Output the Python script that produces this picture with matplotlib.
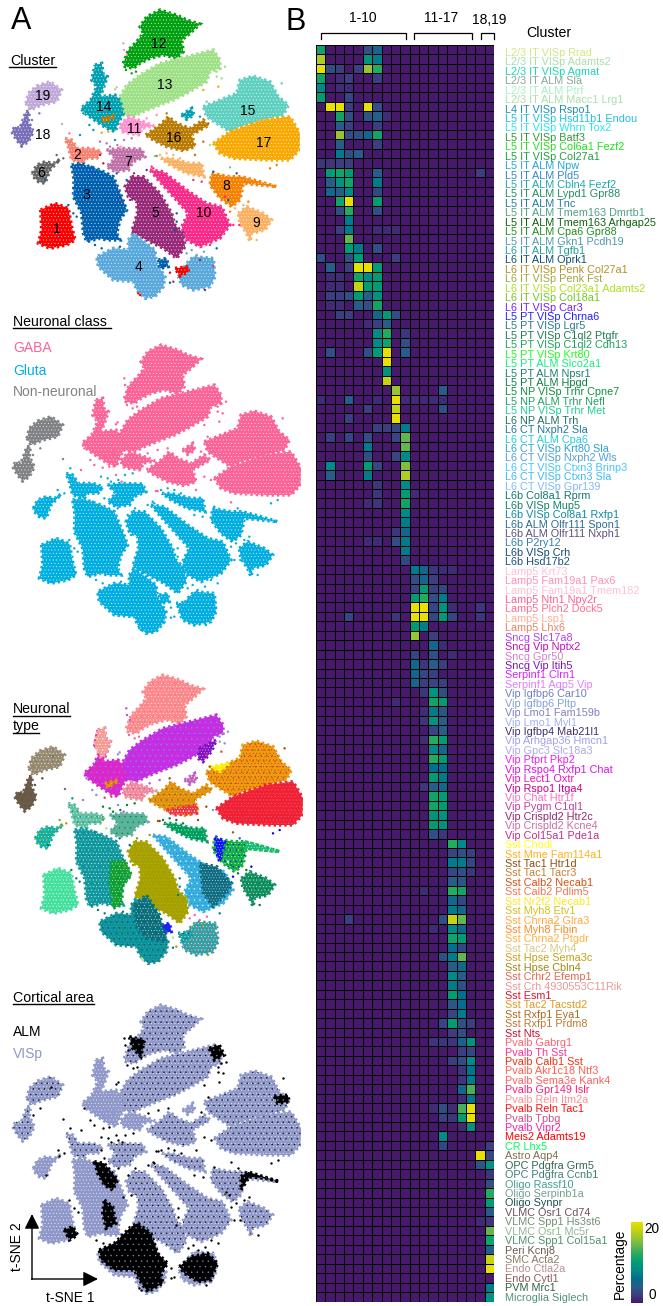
import numpy as np
import matplotlib
matplotlib.use("Agg")
import matplotlib.pyplot as plt
from matplotlib.patches import Polygon
from matplotlib.colors import LinearSegmentedColormap

plt.rcParams['font.family'] = ['Liberation Sans', 'DejaVu Sans']
plt.rcParams['hatch.linewidth'] = 0.2

W, H = 663, 1306

# ---------- heat map: row labels, colours, and the cells above background ----------
row_labels = [
 "L2/3 IT VISp Rrad","L2/3 IT VISp Adamts2","L2/3 IT VISp Agmat","L2/3 IT ALM Sla","L2/3 IT ALM Ptrf","L2/3 IT ALM Macc1 Lrg1",
 "L4 IT VISp Rspo1","L5 IT VISp Hsd11b1 Endou","L5 IT VISp Whrn Tox2","L5 IT VISp Batf3","L5 IT VISp Col6a1 Fezf2","L5 IT VISp Col27a1",
 "L5 IT ALM Npw","L5 IT ALM Pld5","L5 IT ALM Cbln4 Fezf2","L5 IT ALM Lypd1 Gpr88","L5 IT ALM Tnc","L5 IT ALM Tmem163 Dmrtb1",
 "L5 IT ALM Tmem163 Arhgap25","L5 IT ALM Cpa6 Gpr88","L5 IT ALM Gkn1 Pcdh19","L6 IT ALM Tgfb1","L6 IT ALM Oprk1",
 "L6 IT VISp Penk Col27a1","L6 IT VISp Penk Fst","L6 IT VISp Col23a1 Adamts2","L6 IT VISp Col18a1","L6 IT VISp Car3",
 "L5 PT VISp Chrna6","L5 PT VISp Lgr5","L5 PT VISp C1ql2 Ptgfr","L5 PT VISp C1ql2 Cdh13","L5 PT VISp Krt80",
 "L5 PT ALM Slco2a1","L5 PT ALM Npsr1","L5 PT ALM Hpgd","L5 NP VISp Trhr Cpne7","L5 NP ALM Trhr Nefl","L5 NP VISp Trhr Met","L6 NP ALM Trh",
 "L6 CT Nxph2 Sla","L6 CT ALM Cpa6","L6 CT VISp Krt80 Sla","L6 CT VISp Nxph2 Wls","L6 CT VISp Ctxn3 Brinp3","L6 CT VISp Ctxn3 Sla","L6 CT VISp Gpr139",
 "L6b Col8a1 Rprm","L6b VISp Mup5","L6b VISp Col8a1 Rxfp1","L6b ALM Olfr111 Spon1","L6b ALM Olfr111 Nxph1","L6b P2ry12","L6b VISp Crh","L6b Hsd17b2",
 "Lamp5 Krt73","Lamp5 Fam19a1 Pax6","Lamp5 Fam19a1 Tmem182","Lamp5 Ntn1 Npy2r","Lamp5 Plch2 Dock5","Lamp5 Lsp1","Lamp5 Lhx6",
 "Sncg Slc17a8","Sncg Vip Nptx2","Sncg Gpr50","Sncg Vip Itih5","Serpinf1 Clrn1","Serpinf1 Aqp5 Vip",
 "Vip Igfbp6 Car10","Vip Igfbp6 Pltp","Vip Lmo1 Fam159b","Vip Lmo1 Myl1","Vip Igfbp4 Mab21l1","Vip Arhgap36 Hmcn1","Vip Gpc3 Slc18a3",
 "Vip Ptprt Pkp2","Vip Rspo4 Rxfp1 Chat","Vip Lect1 Oxtr","Vip Rspo1 Itga4","Vip Chat Htr1f","Vip Pygm C1ql1","Vip Crispld2 Htr2c","Vip Crispld2 Kcne4","Vip Col15a1 Pde1a",
 "Sst Chodl","Sst Mme Fam114a1","Sst Tac1 Htr1d","Sst Tac1 Tacr3","Sst Calb2 Necab1","Sst Calb2 Pdlim5","Sst Nr2f2 Necab1","Sst Myh8 Etv1",
 "Sst Chrna2 Glra3","Sst Myh8 Fibin","Sst Chrna2 Ptgdr","Sst Tac2 Myh4","Sst Hpse Sema3c","Sst Hpse Cbln4","Sst Crhr2 Efemp1","Sst Crh 4930553C11Rik",
 "Sst Esm1","Sst Tac2 Tacstd2","Sst Rxfp1 Eya1","Sst Rxfp1 Prdm8","Sst Nts",
 "Pvalb Gabrg1","Pvalb Th Sst","Pvalb Calb1 Sst","Pvalb Akr1c18 Ntf3","Pvalb Sema3e Kank4","Pvalb Gpr149 Islr","Pvalb Reln Itm2a","Pvalb Reln Tac1","Pvalb Tpbg","Pvalb Vipr2",
 "Meis2 Adamts19","CR Lhx5","Astro Aqp4","OPC Pdgfra Grm5","OPC Pdgfra Ccnb1","Oligo Rassf10","Oligo Serpinb1a","Oligo Synpr",
 "VLMC Osr1 Cd74","VLMC Spp1 Hs3st6","VLMC Osr1 Mc5r","VLMC Spp1 Col15a1","Peri Kcnj8","SMC Acta2","Endo Ctla2a","Endo Cytl1","PVM Mrc1","Microglia Siglech"]

row_colors = [
 "#d0e880","#a8e0a8","#1ad8b0","#88a898","#a8f0c8","#a8e0a8","#2090a8","#20c0d8","#20e8f0","#309a30","#20e020","#20a040",
 "#20a8d8","#3088c8","#20a8a8","#209060","#207aa0","#50a080","#106010","#209020","#5098b0","#20a0a0","#105070",
 "#b89020","#a0a840","#b0e020","#70c820","#7a20ff","#2020ff","#2a7a90","#207a50","#20a060","#20ff20","#10f080","#208070","#108040",
 "#109040","#20a060","#20d090","#207060","#207a9a","#20d0d8","#30a0d0","#50a0d8","#40c8ff","#40b8f0","#80b8ff",
 "#107a70","#108068","#108aa0","#2a6a90","#605078","#3080b0","#104a70","#205080",
 "#ffc0d8","#ff90b8","#ffc0d0","#ff6090","#ff7090","#ffb090","#f08060",
 "#b040ff","#c010b0","#d880d0","#8010c0","#e020ff","#e080ff",
 "#7080c0","#80a0e0","#8080c0","#a0b0ff","#403070","#a0a0f0","#b0a8f0","#f020f0","#e010f0","#f010c0","#c80090","#ff70c0","#c040a0","#902870","#c870a8","#c03090",
 "#ffff20","#ffb020","#905010","#c88030","#d85010","#f07850","#ffe820","#d0c020","#ffa840","#ff8820","#ffb040","#d8c880","#c8a010","#a08810",
 "#e06850","#e89898","#e01030","#e09820","#b06820","#c07830","#c81030",
 "#ff6070","#ff3090","#f03010","#ff6050","#ff6060","#ff2070","#ff9090","#ff1010","#d05080","#ff20a0",
 "#ff0000","#00ff60","#807050","#306850","#408070","#40a090","#70a090","#205050","#705058","#709070","#90b890","#509070",
 "#705850","#907860","#b89090","#905858","#306040","#509078"]

n_cols = 19
heat_cells = {
 0:{0:11,5:3,6:5}, 1:{0:17,5:9,6:7}, 2:{0:20,1:3,2:2,4:2,5:16,6:12}, 3:{0:11,2:1,3:2,6:2}, 4:{0:8,2:1,3:1}, 5:{0:10,3:2.5},
 6:{1:20,2:20,3:2,5:20,6:3}, 7:{2:11,3:3,5:3.5,6:4.5,7:1}, 8:{2:4,3:2,6:2}, 9:{2:16,3:3,4:3,5:5,6:11}, 10:{2:4,6:2}, 11:{2:7,3:3,4:4},
 12:{0:1.5,1:1.5,2:2,3:2}, 13:{1:10,2:11,3:10,6:4,17:2}, 14:{1:4,2:9,3:11,6:7}, 15:{1:5,2:4,3:8,6:2.5}, 16:{2:11,3:20,6:10}, 17:{2:3,3:12,6:3},
 18:{3:7}, 19:{2:2,3:7,6:1,7:1,8:1}, 20:{3:14}, 21:{3:10,4:7,6:3}, 22:{0:3,3:3,4:10,8:2}, 23:{1:4,3:2,4:20,5:20,6:10},
 24:{1:1,2:1,4:11,5:8,6:10}, 25:{1:1,2:1,4:18,5:10,6:10}, 26:{1:2,2:2,3:3,4:10,5:4,6:9}, 27:{1:1,2:1,4:4,5:3,6:11}, 28:{2:2,3:2,6:5,7:10,8:3},
 29:{5:1,6:2,7:4}, 30:{6:8,7:12,9:1.5}, 31:{6:8,7:11,9:3}, 32:{1:3,5:3,6:10,7:20,9:4}, 33:{7:20}, 34:{7:9}, 35:{7:18},
 36:{8:16,13:4}, 37:{0:1,3:4,6:1,8:20,9:1,10:1,11:1,12:1,13:1}, 38:{5:2,8:18,13:3}, 39:{3:2,8:20},
 40:{6:2,7:2,8:2.5,9:7}, 41:{1:2,3:2.5,5:3,8:2.5,9:14}, 42:{5:7,9:14}, 43:{5:3,8:2.5,9:8}, 44:{1:8,5:10,6:2.5,9:15}, 45:{1:4,5:7,9:17},
 46:{6:1.5,9:8}, 47:{6:1.5,9:10,10:1}, 48:{5:1,6:1.5,9:11}, 49:{9:8}, 50:{9:7}, 51:{8:1.5,9:5}, 52:{5:1,6:1,8:3,9:7}, 53:{9:7}, 54:{9:2.5},
 55:{10:7,11:5,12:1.5,13:1,14:1}, 56:{10:3,11:5,12:2}, 57:{10:2.5,11:10,12:2,13:2.5}, 58:{10:10,11:12,12:3,13:7},
 59:{10:20,11:20,12:2.5,13:9,14:1,17:1.5}, 60:{3:2.5,8:1.5,10:20,11:20,12:2.5,13:10,14:2.5,17:1.5}, 61:{10:10,11:7}, 62:{10:16,12:2},
 63:{12:5,13:1}, 64:{10:2.5,12:3,14:1}, 65:{10:5,11:1.5,12:4,13:2}, 66:{10:5,11:2.5,12:2}, 67:{10:5,11:2,12:2.5,13:2},
 68:{11:1.5,12:9,13:3}, 69:{8:1,12:11,13:10}, 70:{11:1,12:7,13:3.5}, 71:{11:1.5,12:9,13:4}, 72:{12:2.5,13:4}, 73:{11:1,12:12,13:10},
 74:{12:8,13:5}, 75:{12:12,13:10}, 76:{12:6,13:6}, 77:{12:10,13:7}, 78:{11:1.5,12:4,13:5}, 79:{12:11,13:10}, 80:{12:11,13:10}, 81:{12:9,13:9},
 82:{12:10,13:9}, 83:{12:3,13:1.5},
 84:{14:12,15:8}, 85:{14:2.5,15:3,16:2}, 86:{14:7,15:7,16:2.5}, 87:{14:2.5,15:3,16:1.5}, 88:{14:4,15:3.5}, 89:{11:1,14:12,15:11}, 90:{14:5,15:2.5},
 91:{14:7,15:5}, 92:{3:2,13:3,14:18,15:14}, 93:{12:1,14:8,15:5}, 94:{14:11,15:10}, 95:{14:6,15:2.5}, 96:{13:3,14:7,15:14}, 97:{14:4,15:5},
 98:{14:8,15:4}, 99:{14:7,15:3}, 100:{14:10,15:6}, 101:{14:3.5,15:5.5}, 102:{14:2.5,15:7}, 103:{13:2.5,14:10,15:3,16:2}, 104:{14:2,15:3},
 105:{12:1.5,13:1.5,14:1.5,15:5,16:9}, 106:{15:2,16:2.5}, 107:{14:2,15:3,16:8}, 108:{15:1.5,16:6.5}, 109:{15:1.5,16:7}, 110:{15:5,16:13},
 111:{15:1,16:6.5}, 112:{12:1,13:3,14:1,15:13,16:20}, 113:{13:2,14:1.5,15:10,16:20}, 114:{15:1,16:9}, 115:{13:8}, 116:{13:2.5,18:2},
 117:{17:20,18:2.5}, 118:{17:3.5,18:9}, 119:{18:1.5}, 120:{18:3}, 121:{18:12}, 122:{18:10}, 123:{18:4}, 124:{17:1,18:1.5}, 125:{18:14},
 126:{18:11}, 127:{18:4.5}, 128:{18:18}, 129:{18:20}, 131:{18:7}, 132:{18:9},
}

heat_stops = ["#47196b","#3c3f80","#2a5c8a","#006f90","#008a8a","#009c74","#20ad60","#62b550","#98c432","#c4d410","#e8e000"]

# ---------- t-SNE cluster outlines ----------
poly_12 = [(370,190),(385,150),(410,125),(430,100),(420,80),(440,50),(480,30),(530,45),(560,60),(600,72),(570,100),(545,120),(550,155),(530,175),(490,165),(450,175),(420,190),(400,205),(375,200)]
poly_13 = [(360,290),(380,255),(420,225),(480,190),(560,170),(640,150),(660,180),(660,205),(630,215),(620,245),(560,280),(520,300),(480,315),(430,335),(400,350),(370,345),(360,320)]
poly_14 = [(285,195),(305,190),(310,225),(322,230),(310,265),(300,290),(345,285),(360,300),(370,340),(355,370),(345,395),(320,385),(290,365),(255,340),(243,325),(258,312),(272,300),(290,260),(275,240)]
poly_14b = [(545,345),(575,325),(582,345),(560,358)]
poly_11 = [(360,375),(385,350),(430,365),(462,378),(425,385),(420,405),(385,400),(365,395)]
poly_16 = [(437,405),(480,375),(505,350),(530,370),(570,385),(610,360),(628,375),(600,390),(575,405),(585,440),(550,452),(500,440),(460,420)]
poly_16b = [(305,355),(345,345),(340,352),(315,368)]
poly_15 = [(610,320),(660,300),(710,280),(720,240),(760,228),(810,245),(835,290),(865,315),(850,345),(790,360),(720,380),(690,395),(650,370),(620,350)]
poly_17 = [(640,430),(690,395),(790,360),(870,350),(900,400),(898,450),(870,480),(800,480),(700,475),(660,460)]
poly_19 = [(78,310),(85,280),(110,258),(150,245),(185,270),(170,305),(125,315),(90,330)]
poly_18 = [(78,335),(88,335),(85,365),(100,395),(85,425),(65,438),(50,420),(35,395),(45,380),(60,385)]
poly_6 = [(97,520),(110,495),(135,485),(160,490),(180,478),(150,510),(135,550),(115,545),(100,530)]
poly_2 = [(195,415),(215,420),(232,445),(275,445),(305,455),(290,475),(260,475),(250,490),(215,480),(205,440)]
poly_7 = [(320,450),(360,445),(425,447),(435,470),(400,485),(385,510),(345,515),(320,500),(345,475)]
poly_3 = [(215,495),(240,490),(300,510),(340,530),(365,590),(380,630),(360,660),(350,700),(360,720),(320,720),(300,715),(260,725),(250,700),(245,640),(220,590),(222,540)]
poly_1 = [(122,630),(165,610),(205,625),(215,680),(225,720),(200,735),(150,745),(115,730),(125,690)]
poly_5 = [(395,530),(430,530),(480,580),(515,640),(525,675),(550,700),(555,740),(530,775),(490,745),(430,715),(395,695),(412,640),(410,605),(385,590),(375,560)]
poly_10 = [(450,510),(490,515),(560,570),(620,610),(665,620),(690,675),(660,715),(600,740),(560,720),(545,680),(565,640),(520,590),(475,540)]
poly_8 = [(635,520),(690,530),(725,530),(780,545),(830,560),(780,555),(730,550),(720,600),(695,620),(660,595),(630,555)]
poly_9 = [(715,640),(740,620),(790,640),(815,660),(795,690),(755,700),(750,725),(740,700),(720,670)]
poly_20 = [(483,475),(510,475),(570,490),(605,490),(612,530),(560,520),(510,495)]
poly_4 = [(385,720),(400,700),(465,750),(470,790),(495,830),(490,860),(465,890),(435,895),(410,870),(400,845),(340,840),(295,800),(290,770),(340,745),(385,750)]
poly_4b = [(535,830),(560,790),(580,770),(640,775),(645,830),(630,860),(580,870),(545,855)]
poly_red = [(525,805),(565,800),(565,815),(540,828)]
poly_blue = [(475,780),(500,775),(505,800),(480,805)]

outlines = {'12':poly_12,'13':poly_13,'14':poly_14,'14b':poly_14b,'11':poly_11,'16':poly_16,'16b':poly_16b,'15':poly_15,'17':poly_17,
            '19':poly_19,'18':poly_18,'6':poly_6,'2':poly_2,'7':poly_7,'3':poly_3,'1':poly_1,'10':poly_10,'5':poly_5,'8':poly_8,'9':poly_9,
            '20':poly_20,'4':poly_4,'4b':poly_4b,'red':poly_red,'blue':poly_blue}

cluster_faces = {'12':'#00a010','13':'#9ee086','14':'#00a0b0','14b':'#00a0b0','11':'#ff90d0','16':'#b87a00','16b':'#b87a00','15':'#5fd0c0','17':'#f8a800',
                 '19':'#c0a8d8','18':'#7570b8','6':'#666666','2':'#f88070','7':'#c070a8','3':'#0060b0','1':'#fa0000','5':'#982878','10':'#fa2888',
                 '8':'#f88000','9':'#fbb060','20':'#fbb060','4':'#58a8dc','4b':'#58a8dc','red':'#fa0000','blue':'#0060b0'}

gaba_keys = ['12','13','14','14b','11','16','16b','15','17']
gray_keys = ['18','19']
class_names = ["GABA","Gluta","Non-neuronal"]
class_colors = ["#fb6295","#00aee0","#808285"]

type_faces = {'12':'#fc8a8a','13':'#c030e0','14':'#d828c8','14b':'#c060c0','11':'#f08a9a','16':'#e09010','16b':'#e09010','15':'#f09a10','17':'#f02030',
              '19':'#9a8a70','18':'#6a5a48','6':'#10b0a0','2':'#60c0a0','7':'#60b0a0','3':'#109aa0','1':'#40e0a0','5':'#a8a000','10':'#38b0e0',
              '8':'#10b040','9':'#109060','20':'#00a060','4':'#10909a','4b':'#30a0a0','red':'#10a0a0','blue':'#2020ff'}
type_specks = {'12':'#ff60a0','13':'#8890e0','14':'#8888e0','14b':'#ffffff','11':'#c050d0','16':'#904a10','16b':'#904a10','15':'#a05010','17':'#d84060',
               '19':'#50807a','18':'#5a4a38','6':'#a8a000','2':'#009090','7':'#008030','3':'#0a7a80','1':'#a0e880','5':'#90a000','10':'#ffffff',
               '8':'#0000ff','9':'#007040','20':'#007a40','4':'#006030','4b':'#ff60b0','red':'#006030','blue':'#2020ff'}
type_specks2 = {'12':'#ffffff','13':'#ff20ff','14':'#ff20ff','14b':'#ffffff','11':'#ffffff','16':'#ffd020','16b':'#ffd020','15':'#c02020','17':'#ff60a0',
                '19':'#ffffff','18':'#6a5a48','6':'#ffffff','2':'#ffffff','7':'#20d060','3':'#ffffff','1':'#ffffff','5':'#b0c020','10':'#2080c0',
                '8':'#ffffff','9':'#ffffff','20':'#ffffff','4':'#20c8d0','4b':'#ffffff','red':'#ffffff','blue':'#2020ff'}
# sub-regions of the type panel: outline, colour, speckle colour
type_sub_14 = [(285,195),(305,190),(310,225),(322,230),(310,265),(295,280),(275,240)]
type_sub_13 = [(590,250),(640,225),(625,260),(600,290),(585,280)]
type_sub_10 = [(591,595),(641,605),(686,655),(671,685),(631,725),(601,685)]
type_sub_3 = [(325,590),(365,585),(385,630),(360,660),(355,720),(330,730),(320,650)]
type_sub_4 = [(395,720),(430,690),(470,750),(490,830),(430,820),(400,780)]
type_sub_8a = [(636,515),(665,530),(650,590),(640,560)]
type_sub_8b = [(725,530),(780,545),(830,560),(780,555),(730,550)]
type_sub_15 = [(621,305),(681,295),(651,320)]
type_sub_16 = [(491,435),(581,420),(581,445),(511,450)]
type_subs = [(type_sub_14,'#f59a90','#ffffff'),(type_sub_13,'#8010c0','#b040e0'),(type_sub_10,'#106a80','#0a90a0'),
             (type_sub_3,'#10a030','#008060'),(type_sub_4,'#0a7080','#005030'),(type_sub_8a,'#1010ff','#00a030'),
             (type_sub_8b,'#10c070','#ffffff'),(type_sub_15,'#ffee00','#ffee00'),(type_sub_16,'#f03040','#ffffff')]

area_names = ["ALM","VISp"]
area_colors = ["#000000","#8f98c8"]
alm_speckled = ['12','13','15','17','16','8','9','19','18','7','20','10','5','2']
alm_1 = [(295,765),(340,745),(390,695),(410,685),(450,715),(470,775),(500,805),(480,835),(485,865),(440,890),(415,855),(400,825),(340,825),(300,795)]
alm_2 = [(535,815),(570,785),(620,775),(650,805),(630,855),(590,860),(550,835)]
alm_3 = [(280,500),(310,505),(350,555),(335,585),(310,570),(290,535)]
alm_4 = [(310,615),(335,635),(345,685),(315,700),(305,655)]
alm_5 = [(625,160),(655,150),(670,180),(640,195)]
alm_6 = [(720,545),(740,530),(835,560),(790,550),(745,545),(720,585)]
alm_7 = [(190,705),(215,695),(230,720),(205,735)]
alm_8 = [(820,305),(860,300),(865,320),(830,325)]
alm_9 = [(385,125),(430,135),(420,185),(395,160)]
alm_patches = [alm_1,alm_2,alm_3,alm_4,alm_5,alm_6,alm_7,alm_8,alm_9]

stray_x = [305,325,370,372,380,350,345,660,675,655,610,650,470,640,710,690,685,675,700,718,650,630,380,350,365,390,530,530,525,230,220,205,285,305,360,415,420,510,490,510,520,615,640,600,135,610,630,580,605,465,460,300,310,
           345,362,372,395,402,440,455,480,500,520,540,585,600,620,690,705,730,745,770,810,830,845,250,268,280,240,208,186,150,118,96,170,190,175,560,575,590,612,650,665,440,470,500,395,408,378,352,330,320,300,275]
stray_y = [398,395,130,150,165,262,268,205,200,260,270,230,468,515,520,502,600,590,675,675,745,735,540,520,605,600,640,665,690,650,640,615,735,745,740,880,885,818,800,848,845,870,798,780,540,425,435,540,545,468,505,465,490,
           420,440,420,415,520,510,500,465,460,465,475,465,350,305,635,625,615,605,720,505,495,250,340,375,390,405,400,372,275,340,360,465,475,482,760,750,765,755,215,235,355,345,340,220,215,210,435,440,430,425,500]
stray_k = ['17','17','11','11','11','13','13','13','13','17','17','13','16','3','3','15','3','10','10','10','3','10','3','3','5','5','3','3','3','3','3','3','3','3','3','1','1','1','3','3','5','5','10','5','3','16','13','10','10','15','10','5','1',
           '14','11','7','7','5','5','10','20','20','20','20','16','14b','15','8','9','9','8','9','8','8','15','14','14','14','14','2','19','19','18','18','6','6','6','4b','4b','4b','4b','13','13','11','11','16','12','12','12','7','7','7','7','3']

cluster_numbers = ['1','2','3','4','5','6','7','8','9','10','11','12','13','14','15','16','17','18','19']
number_x = [170,232,260,415,465,122,383,680,768,612,403,475,495,310,742,522,790,127,128]
number_y = [687,465,585,800,640,520,487,558,668,640,387,132,255,322,332,413,430,405,288]

# ---------- figure ----------
fig = plt.figure(figsize=(W/100, H/100), dpi=100)
def px_axes(x0, y0, x1, y1):
    return fig.add_axes([x0/W, 1-y1/H, (x1-x0)/W, (y1-y0)/H])

def blob(ax, xy, face, speck, speck2='white', hatch='...', hatch2='.....'):
    ax.add_patch(Polygon(xy, closed=True, fc=face, ec=face, lw=2.4, ls=(0,(0.7,0.9))))
    ax.add_patch(Polygon(xy, closed=True, fc='none', ec=speck2, lw=0, hatch=hatch2))
    ax.add_patch(Polygon(xy, closed=True, fc='none', ec=speck, lw=0, hatch=hatch))

def tsne_axes(dx, dy):
    ax = px_axes(dx, dy, dx+300, dy+320)
    ax.set_xlim(0, 900); ax.set_ylim(960, 0); ax.axis('off')
    return ax

# panel 1: clusters
ax1 = tsne_axes(0, 0)
for k, xy in outlines.items():
    blob(ax1, xy, cluster_faces[k], 'white', cluster_faces[k], hatch='.....', hatch2='..')
ax1.scatter(stray_x, stray_y, s=3, c=[cluster_faces[k] for k in stray_k], lw=0)
for t, x, y in zip(cluster_numbers, number_x, number_y):
    ax1.text(x, y, t, fontsize=10, ha='center', va='center', color='black')

# panel 2: neuronal class
ax2 = tsne_axes(1, 335)
def class_of(k):
    return class_colors[0] if k in gaba_keys else class_colors[2] if k in gray_keys else class_colors[1]
for k, xy in outlines.items():
    blob(ax2, xy, class_of(k), 'white', class_of(k), hatch='.....', hatch2='..')
ax2.scatter(stray_x, stray_y, s=3, c=[class_of(k) for k in stray_k], lw=0)

# panel 3: neuronal type
ax3 = tsne_axes(3, 665)
for k, xy in outlines.items():
    blob(ax3, xy, type_faces[k], type_specks[k], type_specks2[k], hatch='...', hatch2='.....')
for xy, f, s in type_subs:
    blob(ax3, xy, f, s, 'white', hatch='...', hatch2='......')
ax3.scatter(stray_x, stray_y, s=3, c=[type_specks[k] for k in stray_k], lw=0)

# panel 4: cortical area
ax4 = tsne_axes(1, 995)
for k, xy in outlines.items():
    if k in ('red', 'blue'):
        continue
    blob(ax4, xy, area_colors[1], 'black' if k in alm_speckled else area_colors[1], 'white', hatch='...', hatch2='.....')
for xy in alm_patches:
    blob(ax4, xy, area_colors[0], area_colors[1], area_colors[0], hatch='...', hatch2='.')
ax4.scatter(stray_x, stray_y, s=3, c=area_colors[0], lw=0)

# heat map
hm_left, hm_right, hm_top, hm_bottom = 316, 494, 45, 1301.5
axh = px_axes(hm_left, hm_top, hm_right, hm_bottom)
matrix = np.zeros((len(row_labels), n_cols))
for r, cols in heat_cells.items():
    for c, v in cols.items():
        matrix[r, c] = v
cmap = LinearSegmentedColormap.from_list('pct', heat_stops)
axh.pcolormesh(np.arange(n_cols+1), np.arange(len(row_labels)+1), matrix, cmap=cmap, vmin=0, vmax=20,
               edgecolors='black', linewidth=0.65)
axh.set_xlim(0, n_cols); axh.set_ylim(len(row_labels), 0); axh.axis('off')

# colour bar
axc = px_axes(631, 1222, 643, 1303)
axc.imshow(np.linspace(20, 0, 256)[:, None], cmap=cmap, aspect='auto', vmin=0, vmax=20)
axc.axis('off')

# overlay in pixels for text and annotations
ov = px_axes(0, 0, W, H)
ov.set_xlim(0, W); ov.set_ylim(H, 0); ov.axis('off'); ov.patch.set_alpha(0)

for i, (lab, col) in enumerate(zip(row_labels, row_colors)):
    ov.text(505, 53 + i*9.43, lab, fontsize=7.8, color=col, ha='left', va='center')

ov.text(11, 21, "A", fontsize=22, ha='left', va='center')
ov.text(286, 22, "B", fontsize=22, ha='left', va='center')
ov.text(363, 18, "1-10", fontsize=10, ha='center', va='center')
ov.text(441, 18, "11-17", fontsize=10, ha='center', va='center')
ov.text(489, 20, "18,19", fontsize=10, ha='center', va='center')
ov.text(549, 33, "Cluster", fontsize=10.2, ha='center', va='center')
for x0, x1 in [(320.7, 405.7), (414, 472), (481, 494)]:
    ov.plot([x0, x0, x1, x1], [38.7, 32.5, 32.5, 38.7], color='black', lw=0.9, solid_joinstyle='miter')

ov.text(652, 1229, "20", fontsize=9.8, ha='center', va='center')
ov.text(652, 1295, "0", fontsize=9.8, ha='center', va='center')
ov.text(620, 1264, "Percentage", fontsize=9.9, rotation=90, ha='center', va='center')

titles = [("Cluster", 10, 61, 9, 56, 67), ("Neuronal class", 13, 322, 13, 111, 327.5),
          ("Neuronal", 13, 709, 13, 70, 715.5), ("type", 13, 726, 13, 39, 732.5), ("Cortical area", 13, 998, 13, 94, 1004)]
for t, x, y, u0, u1, uy in titles:
    ov.text(x, y, t, fontsize=10.2, ha='left', va='center')
    ov.plot([u0, u1], [uy, uy], color='black', lw=1.0)

for name, col, y in zip(class_names, class_colors, [348, 371, 392]):
    ov.text(13, y, name, fontsize=10, color=col, ha='left', va='center')
for name, col, y in zip(area_names, area_colors, [1032, 1054]):
    ov.text(13, y, name, fontsize=10, color=col, ha='left', va='center')

arrow = dict(arrowstyle='-|>,head_width=0.45,head_length=0.9', color='black', lw=1.0, shrinkA=0, shrinkB=0)
ov.annotate('', xy=(32, 1214), xytext=(32, 1279.5), arrowprops=arrow)
ov.annotate('', xy=(98, 1279), xytext=(31.5, 1279), arrowprops=arrow)
ov.text(17, 1247, "t-SNE 2", fontsize=10, rotation=90, ha='center', va='center')
ov.text(70, 1298, "t-SNE 1", fontsize=10, ha='center', va='center')

fig.savefig('out.png', dpi=100)
